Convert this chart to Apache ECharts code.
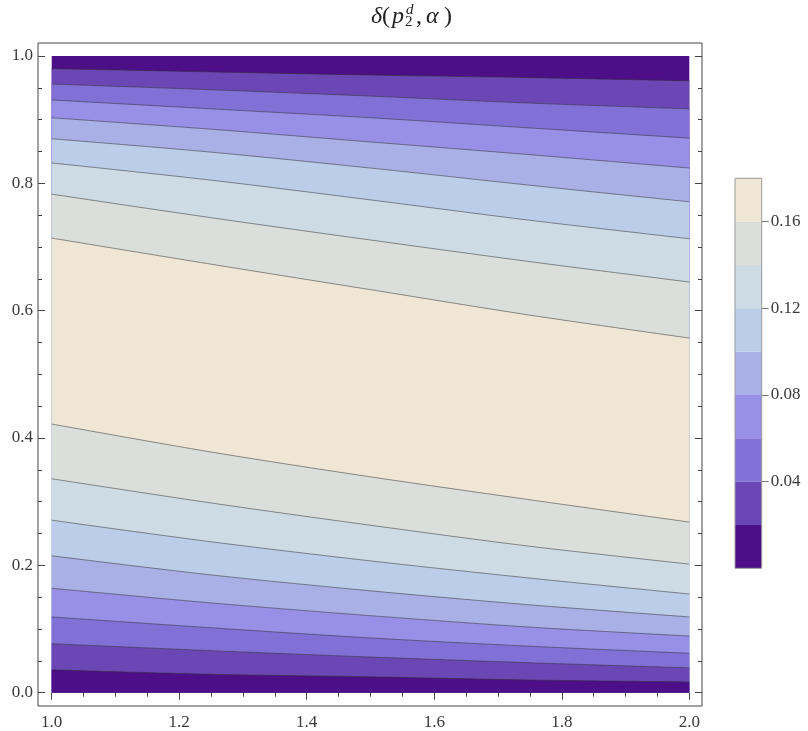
<!DOCTYPE html>
<html><head><meta charset="utf-8">
<script src="https://cdn.jsdelivr.net/npm/echarts@6/dist/echarts.min.js"></script>
<style>html,body{margin:0;padding:0;background:#fff}#c{width:808px;height:731px}</style>
</head><body><div id="c"></div>
<script>
// ---------- data ----------
const xSamples = [1.0, 1.25, 1.5, 1.75, 2.0];
const contourLevels = [0.02, 0.04, 0.06, 0.08, 0.10, 0.12, 0.14, 0.16];
// upper contour curve (y value) of each level, at xSamples
const upperCurves = [
  [0.980, 0.975, 0.970, 0.966, 0.961],
  [0.956, 0.947, 0.937, 0.926, 0.917],
  [0.931, 0.917, 0.903, 0.887, 0.871],
  [0.903, 0.885, 0.865, 0.845, 0.824],
  [0.870, 0.849, 0.824, 0.797, 0.771],
  [0.832, 0.805, 0.774, 0.742, 0.713],
  [0.783, 0.746, 0.711, 0.677, 0.645],
  [0.714, 0.673, 0.633, 0.593, 0.557]
];
// lower contour curve (y value) of each level, at xSamples
const lowerCurves = [
  [0.036, 0.029, 0.025, 0.020, 0.017],
  [0.077, 0.066, 0.056, 0.047, 0.039],
  [0.119, 0.102, 0.086, 0.073, 0.062],
  [0.164, 0.141, 0.121, 0.103, 0.089],
  [0.215, 0.185, 0.160, 0.138, 0.119],
  [0.271, 0.237, 0.207, 0.180, 0.155],
  [0.336, 0.298, 0.263, 0.230, 0.202],
  [0.422, 0.378, 0.339, 0.303, 0.268]
];
const xRange = [1, 2];
const yRange = [0, 1];
const axisStep = 0.2;
const colorbarRange = [0, 0.18];
const colorbarStep = 0.02;
const colorbarTicks = [0.04, 0.08, 0.12, 0.16];

// ---------- styles ----------
const bandColors = ['#4c0f88', '#6b47b6', '#8170d6', '#9790e6', '#a9b0e6',
                    '#bbcde9', '#ccdbe4', '#dadfdc', '#efe6d6'];
const serif = '"Liberation Serif", "DejaVu Serif", serif';
const labelColor = '#3a3a3a';
const tickColor = '#444';
const contourLine = { color: 'rgba(50,50,50,0.75)', width: 0.7 };

const chart = echarts.init(document.getElementById('c'));

function curveData(vals) { return xSamples.map((x, i) => [x, vals[i]]); }

const series = [];
function addContour(vals, color, name) {
  series.push({
    type: 'line', name, xAxisIndex: 0, yAxisIndex: 0,
    data: curveData(vals), smooth: 0.3,
    showSymbol: false, symbol: 'none', silent: true,
    lineStyle: contourLine,
    areaStyle: { color, opacity: 1, origin: 'start' }
  });
}
for (let i = 0; i < contourLevels.length; i++) addContour(upperCurves[i], bandColors[i + 1], 'u' + contourLevels[i]);
for (let i = contourLevels.length - 1; i >= 0; i--) addContour(lowerCurves[i], bandColors[i], 'l' + contourLevels[i]);

// colorbar: stacked bands
const nBands = Math.round((colorbarRange[1] - colorbarRange[0]) / colorbarStep);
for (let b = 0; b < nBands; b++) {
  series.push({
    type: 'bar', xAxisIndex: 3, yAxisIndex: 3, stack: 'cb', silent: true,
    data: [colorbarStep], barWidth: '100%',
    itemStyle: { color: bandColors[b] }
  });
}

const frameTick = (pos, offset, showLabel) => ({
  type: 'value', gridIndex: 0, position: pos, offset,
  axisLine: { show: false },
  axisTick: { show: true, inside: true, length: 7, lineStyle: { color: tickColor, width: 1 } },
  minorTick: { show: true, splitNumber: 4, length: 4, lineStyle: { color: tickColor, width: 1 } },
  splitLine: { show: false }, minorSplitLine: { show: false },
  axisLabel: { show: showLabel, fontFamily: serif, fontSize: 17, color: labelColor,
               formatter: v => v.toFixed(1) }
});

const xb = Object.assign(frameTick('bottom', 13.3, true), { min: xRange[0], max: xRange[1], interval: axisStep });
xb.axisLabel.margin = 8;
const xt = Object.assign(frameTick('top', 13, false), { min: xRange[0], max: xRange[1], interval: axisStep });
const yl = Object.assign(frameTick('left', 13.7, true), { min: yRange[0], max: yRange[1], interval: axisStep });
yl.axisLabel.margin = 5;
const yr = Object.assign(frameTick('right', 12.7, false), { min: yRange[0], max: yRange[1], interval: axisStep });

const option = {
  animation: false,
  backgroundColor: '#ffffff',
  grid: [
    { left: 51.7, top: 56, width: 637.6, height: 636.7, show: true,
      backgroundColor: bandColors[0], borderWidth: 0 },
    { left: 38, top: 43, width: 664, height: 663, show: true,
      backgroundColor: 'transparent', borderColor: '#444', borderWidth: 1 },
    { left: 735, top: 178.3, width: 26.7, height: 390, show: true, z: 5,
      backgroundColor: 'transparent', borderColor: '#9a9a9a', borderWidth: 1 }
  ],
  xAxis: [
    xb, xt,
    { type: 'value', gridIndex: 1, show: false, min: 0, max: 1 },
    { type: 'category', gridIndex: 2, show: false, data: ['c'] }
  ],
  yAxis: [
    yl, yr,
    { type: 'value', gridIndex: 1, show: false, min: 0, max: 1 },
    { type: 'value', gridIndex: 2, position: 'right', min: colorbarRange[0], max: colorbarRange[1],
      axisLine: { show: false },
      axisTick: { show: true, length: 7, customValues: colorbarTicks, lineStyle: { color: '#777' } },
      splitLine: { show: false },
      axisLabel: { margin: 9, customValues: colorbarTicks, fontFamily: serif, fontSize: 17,
                   color: labelColor, formatter: v => v.toFixed(2) } }
  ],
  series,
  graphic: [
    { type: 'text', left: 371, top: 5, style: { text: 'δ', font: 'italic 24px ' + serif, fill: '#222' } },
    { type: 'text', left: 382, top: 5, style: { text: '(', font: '24px ' + serif, fill: '#222' } },
    { type: 'text', left: 392, top: 5, style: { text: 'p', font: 'italic 24px ' + serif, fill: '#222' } },
    { type: 'text', left: 406, top: 3, style: { text: 'd', font: 'italic 15px ' + serif, fill: '#222' } },
    { type: 'text', left: 405, top: 15, style: { text: '2', font: '15px ' + serif, fill: '#222' } },
    { type: 'text', left: 416, top: 5, style: { text: ',', font: '24px ' + serif, fill: '#222' } },
    { type: 'text', left: 426, top: 5, style: { text: 'α', font: 'italic 24px ' + serif, fill: '#222' } },
    { type: 'text', left: 444, top: 5, style: { text: ')', font: '24px ' + serif, fill: '#222' } }
  ]
};
chart.setOption(option);
</script>
</body></html>
